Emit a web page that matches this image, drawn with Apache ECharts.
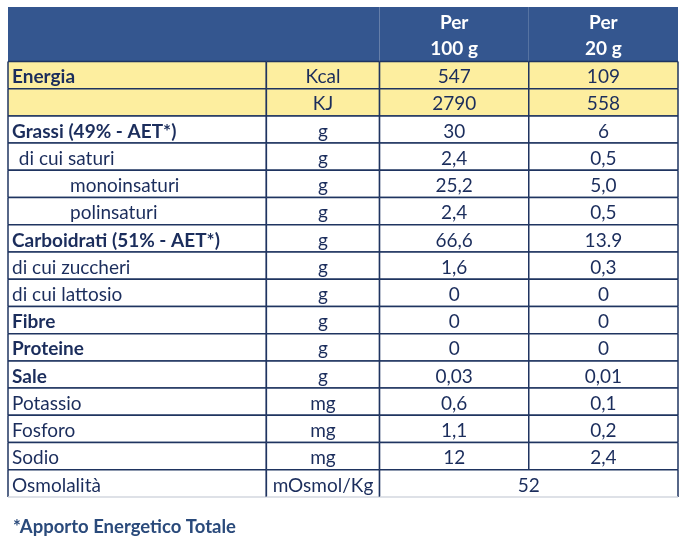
<!DOCTYPE html>
<html>
<head>
<meta charset="utf-8">
<script src="https://cdn.jsdelivr.net/npm/echarts@6/dist/echarts.min.js"></script>
<style>html,body{margin:0;padding:0;background:#fff}#c{width:688px;height:542px}</style>
</head>
<body>
<div id="c"></div>
<script>
// ---- data ----
var headerCols = ['', '', 'Per\n100 g', 'Per\n20 g'];
var nutrients = ['Energia', '', 'Grassi (49% - AET*)', ' di cui saturi', 'monoinsaturi', 'polinsaturi',
  'Carboidrati (51% - AET*)', 'di cui zuccheri', 'di cui lattosio', 'Fibre', 'Proteine', 'Sale',
  'Potassio', 'Fosforo', 'Sodio', 'Osmolalità'];
var units = ['Kcal', 'KJ', 'g', 'g', 'g', 'g', 'g', 'g', 'g', 'g', 'g', 'g', 'mg', 'mg', 'mg', 'mOsmol/Kg'];
var per100g = ['547', '2790', '30', '2,4', '25,2', '2,4', '66,6', '1,6', '0', '0', '0', '0,03', '0,6', '1,1', '12', '52'];
var per20g = ['109', '558', '6', '0,5', '5,0', '0,5', '13.9', '0,3', '0', '0', '0', '0,01', '0,1', '0,2', '2,4', null];
var footnote = '*Apporto Energetico Totale';

// ---- styles / layout ----
var boldRows = [0, 2, 6, 9, 10, 11];
var highlightRows = [0, 1];
var indentPx = { 3: 2, 4: 58, 5: 58 };
var colWidths = [258, 113, 149, 149];
var FONT = 'Lato';
var FS = 19;
var NAVY = '#1b2d5c';
var BORDER = '#1f3460';
var HEAD = '#34568f';
var YELLOW = '#fdee9f';

var colStart = [0];
colWidths.forEach(function (w, i) { colStart.push(colStart[i] + w); });
var totalW = colStart[colStart.length - 1];

var yCats = ['h0', 'h1'].concat(nutrients.map(function (n, i) { return 'r' + i; }));

// cells: [col, rowIndex(on axis), colSpan, rowSpan, text, kind, dataRow]
var cells = [];
cells.push([0, 0, 2, 2, '', 'head', -1]);
cells.push([2, 0, 1, 2, headerCols[2], 'head', -1]);
cells.push([3, 0, 1, 2, headerCols[3], 'head', -1]);
nutrients.forEach(function (n, i) {
  var r = i + 2;
  cells.push([0, r, 1, 1, n, 'label', i]);
  cells.push([1, r, 1, 1, units[i], 'unit', i]);
  if (per20g[i] === null) {
    cells.push([2, r, 2, 1, per100g[i], 'val', i]);
  } else {
    cells.push([2, r, 1, 1, per100g[i], 'val', i]);
    cells.push([3, r, 1, 1, per20g[i], 'val', i]);
  }
});
var lastRow = nutrients.length - 1;

function renderItem(params, api) {
  var col = api.value(0), row = api.value(1), cs = api.value(2), rs = api.value(3);
  var d = cells[params.dataIndex];
  var text = d[4], kind = d[5], dr = d[6];
  var bandH = api.size([0, 1])[1];
  var pL = api.coord([colStart[col], row]);
  var pR = api.coord([colStart[col + cs], row]);
  var x0 = pL[0], x1 = pR[0];
  var y0 = pL[1] - bandH / 2, y1 = y0 + bandH * rs;
  var children = [];
  var fill = kind === 'head' ? HEAD : (highlightRows.indexOf(dr) >= 0 ? YELLOW : '#ffffff');
  children.push({ type: 'rect', shape: { x: x0, y: y0, width: x1 - x0, height: y1 - y0 }, style: { fill: fill } });
  if (kind === 'head') {
    var lines = text ? text.split('\n') : [];
    lines.forEach(function (t, k) {
      children.push({ type: 'text', style: { x: (x0 + x1) / 2, y: y0 + bandH * (k + 0.5) + (k === 0 ? 2.5 : 1.5), text: t,
        fill: '#ffffff', font: 'bold ' + FS + 'px ' + FONT, align: 'center', verticalAlign: 'middle' } });
    });
  } else {
    var bold = kind === 'label' && boldRows.indexOf(dr) >= 0;
    var tx, align;
    if (kind === 'label') { tx = x0 + 4 + (indentPx[dr] || 0); align = 'left'; }
    else { tx = (x0 + x1) / 2; align = 'center'; }
    children.push({ type: 'text', style: { x: tx, y: (y0 + y1) / 2 + 2, text: text, fill: NAVY,
      font: (bold ? 'bold ' : '') + FS + 'px ' + FONT, align: align, verticalAlign: 'middle' } });
    var ls = { stroke: BORDER, lineWidth: 1.5 };
    children.push({ type: 'line', shape: { x1: x0, y1: y0, x2: x1, y2: y0 }, style: ls });
    children.push({ type: 'line', shape: { x1: x0, y1: y0, x2: x0, y2: y1 }, style: ls });
    children.push({ type: 'line', shape: { x1: x1, y1: y0, x2: x1, y2: y1 }, style: ls });
    children.push({ type: 'line', shape: { x1: x0, y1: y1, x2: x1, y2: y1 },
      style: dr === lastRow ? { stroke: '#d3d7df', lineWidth: 1.5 } : ls });
  }
  return { type: 'group', children: children };
}

var chart = echarts.init(document.getElementById('c'), null, { renderer: 'canvas' });
chart.setOption({
  animation: false,
  title: { text: footnote, left: 8, top: 513,
    textStyle: { fontFamily: FONT, fontWeight: 'bold', fontSize: 18.5, color: '#2a4a7b' } },
  grid: { left: 8, top: 7, width: 670, height: 490 },
  xAxis: { type: 'value', min: 0, max: totalW, show: false },
  yAxis: { type: 'category', data: yCats, inverse: true, show: false },
  series: [{
    type: 'custom',
    renderItem: renderItem,
    data: cells.map(function (c) { return [c[0], c[1], c[2], c[3]]; }),
    encode: { x: 0, y: 1 },
    silent: true
  }]
});
</script>
</body>
</html>
